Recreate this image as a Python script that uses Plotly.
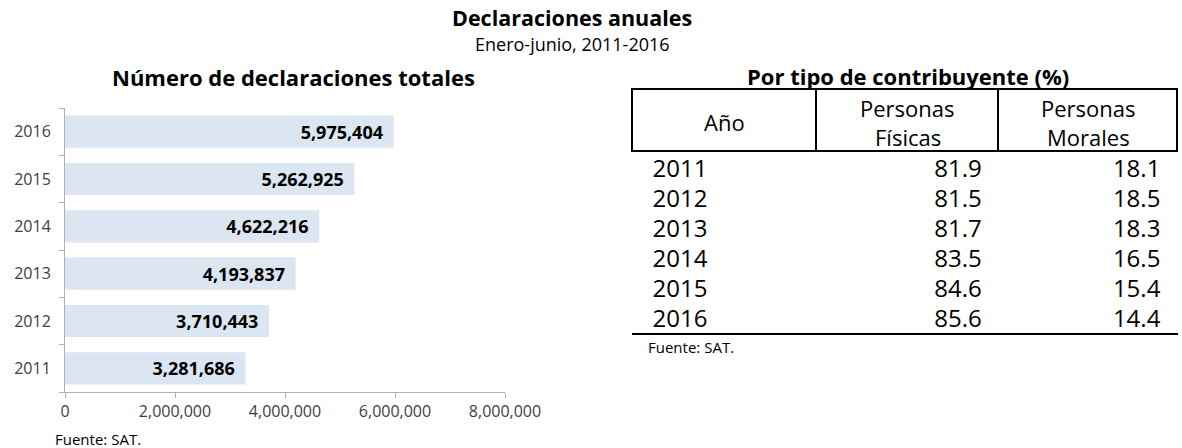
import plotly.graph_objects as go

W, H = 1182, 448

years = ["2011", "2012", "2013", "2014", "2015", "2016"]
totales = [3281686, 3710443, 4193837, 4622216, 5262925, 5975404]
fisicas = [81.9, 81.5, 81.7, 83.5, 84.6, 85.6]
morales = [18.1, 18.5, 18.3, 16.5, 15.4, 14.4]
x_ticks = [0, 2000000, 4000000, 6000000, 8000000]
x_ticklabels = ["0", "2,000,000", "4,000,000", "6,000,000", "8,000,000"]
table_header = [["Año"], ["Personas", "Físicas"], ["Personas", "Morales"]]

FONT = "Open Sans"
NB = "\u00a0"

def px(x):
    return x / W

def py(y):
    return 1 - y / H

fig = go.Figure()

fig.add_trace(go.Bar(
    y=years, x=totales, orientation="h",
    marker=dict(color="#dce6f2", line=dict(width=0)),
    width=0.68,
    text=["<b>" + f"{v:,}" + "</b>" + NB + "\u2009" for v in totales],
    textposition="inside", insidetextanchor="end",
    textfont=dict(family=FONT, size=18, color="#000000"),
    constraintext="none",
    hoverinfo="skip",
))

# table geometry
tx0, tx1 = 632, 1178
col_w = [184, 183, 179]
fig.add_trace(go.Table(
    domain=dict(x=[px(tx0), px(tx1)], y=[py(345), py(89)]),
    columnwidth=col_w,
    header=dict(
        values=["", "", ""],
        height=62,
        line=dict(color="#000000", width=2),
        fill=dict(color="white"),
        font=dict(family=FONT, size=22, color="#000000"),
    ),
    cells=dict(
        values=[[NB + NB + y for y in years],
                [f"{v:.1f}" + NB + "\u200a" for v in fisicas],
                [f"{v:.1f}" + NB + "\u200a" for v in morales]],
        align=["left", "right", "right"],
        height=30,
        line=dict(color="white", width=0),
        fill=dict(color="white"),
        font=dict(family=FONT, size=24, color="#000000"),
    ),
    hoverinfo="skip",
))

fig.update_layout(
    width=W, height=H,
    margin=dict(l=0, r=0, t=0, b=0),
    paper_bgcolor="white", plot_bgcolor="white",
    showlegend=False,
    font=dict(family=FONT, color="#000000"),
    xaxis=dict(
        domain=[px(65), px(505)],
        range=[0, 8000000],
        tickvals=x_ticks, ticktext=x_ticklabels,
        showgrid=False, zeroline=False,
        showline=True, linecolor="#b0b0b0", linewidth=1,
        ticks="outside", ticklen=5, tickcolor="#b0b0b0",
        tickfont=dict(family=FONT, size=16, color="#404040"),
        ticklabelstandoff=0,
        automargin=False,
        fixedrange=True,
    ),
    yaxis=dict(
        domain=[py(392), py(108)],
        type="category",
        showgrid=False, zeroline=False,
        showline=True, linecolor="#b0b0b0", linewidth=1,
        ticks="outside", ticklen=5, tickcolor="#b0b0b0",
        tickson="boundaries",
        tickfont=dict(family=FONT, size=16, color="#404040"),
        ticklabelstandoff=10,
        automargin=False,
        fixedrange=True,
    ),
    bargap=0.32,
)

ann = [
    dict(text="<b>Declaraciones anuales</b>", x=px(572), y=py(17.5), size=21.5),
    dict(text="Enero-junio, 2011-2016", x=px(572), y=py(43.5), size=18),
    dict(text="<b>Número de declaraciones totales</b>", x=px(293), y=py(77), size=22),
    dict(text="<b>Por tipo de contribuyente (%)</b>", x=px(908), y=py(76), size=22),
]
for a in ann:
    fig.add_annotation(text=a["text"], x=a["x"], y=a["y"], xref="paper", yref="paper",
                       xanchor="center", yanchor="middle", showarrow=False,
                       font=dict(family=FONT, size=a["size"], color="#000000"))

# header labels, centred in their header cells
edges = [tx0]
for w in col_w:
    edges.append(edges[-1] + w)
for i, lines in enumerate(table_header):
    cx = (edges[i] + edges[i + 1]) / 2
    n = len(lines)
    for j, line in enumerate(lines):
        cy = 122 + (j - (n - 1) / 2) * 29
        fig.add_annotation(text=line, x=px(cx), y=py(cy), xref="paper", yref="paper",
                           xanchor="center", yanchor="middle", showarrow=False,
                           font=dict(family=FONT, size=22, color="#000000"))

fig.add_annotation(text="Fuente: SAT.", x=px(53), y=py(439), xref="paper", yref="paper",
                   xanchor="left", yanchor="middle", showarrow=False,
                   font=dict(family=FONT, size=15, color="#000000"))
fig.add_annotation(text="Fuente: SAT.", x=px(646), y=py(347), xref="paper", yref="paper",
                   xanchor="left", yanchor="middle", showarrow=False,
                   font=dict(family=FONT, size=15, color="#000000"))

fig.add_shape(type="line", xref="paper", yref="paper",
              x0=px(tx0), x1=px(tx1), y0=py(334), y1=py(334),
              line=dict(color="#000000", width=2))

fig.write_html("out.html", config={"displayModeBar": False},
               post_script="document.body.style.margin='0';")
